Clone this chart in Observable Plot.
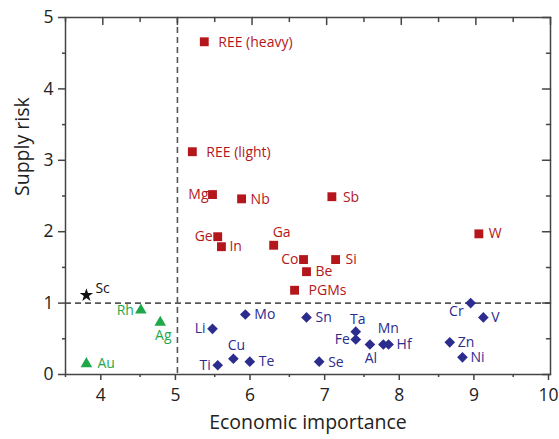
<!DOCTYPE html>
<html>
<head>
<meta charset="utf-8">
<script src="https://cdn.jsdelivr.net/npm/d3@7"></script>
<script src="https://cdn.jsdelivr.net/npm/@observablehq/plot@0.6"></script>
<style>
  body { margin: 0; background: #fff; }
  #chart svg { display: block; }
</style>
</head>
<body>
<div id="chart"></div>
<script>
// ---- data ----
const elements = ["REE (heavy)", "REE (light)", "Mg", "Nb", "Sb", "Ge", "In", "Ga", "Co", "Si", "Be", "PGMs", "W",
  "Sc", "Rh", "Ag", "Au",
  "Li", "Mo", "Sn", "Cu", "Te", "Ti", "Se", "Ta", "Fe", "Al", "Mn", "Hf", "Cr", "V", "Zn", "Ni"];
const economicImportance = [5.36, 5.20, 5.47, 5.86, 7.07, 5.54, 5.59, 6.29, 6.69, 7.12, 6.73, 6.57, 9.04,
  3.78, 4.51, 4.77, 3.78,
  5.47, 5.91, 6.73, 5.75, 5.97, 5.54, 6.90, 7.39, 7.39, 7.58, 7.76, 7.83, 8.93, 9.10, 8.65, 8.82];
const supplyRisk = [4.66, 3.12, 2.52, 2.46, 2.49, 1.93, 1.79, 1.81, 1.61, 1.61, 1.44, 1.18, 1.97,
  1.11, 0.90, 0.73, 0.15,
  0.64, 0.84, 0.80, 0.22, 0.18, 0.13, 0.18, 0.60, 0.49, 0.42, 0.42, 0.42, 1.00, 0.80, 0.45, 0.24];
const groups = ["red", "red", "red", "red", "red", "red", "red", "red", "red", "red", "red", "red", "red",
  "black", "green", "green", "green",
  "blue", "blue", "blue", "blue", "blue", "blue", "blue", "blue", "blue", "blue", "blue", "blue", "blue", "blue", "blue", "blue"];
const xTicks = [4, 5, 6, 7, 8, 9, 10];
const yTicks = [0, 1, 2, 3, 4, 5];
const xMinor = [3.5, 4.5, 5.5, 6.5, 7.5, 8.5, 9.5];
const yMinor = [0.5, 1.5, 2.5, 3.5, 4.5];
const xTitle = "Economic importance";
const yTitle = "Supply risk";

// ---- styling / layout ----
const colors = {red: "#b5161b", black: "#111111", green: "#1fa84a", blue: "#2c2c8e"};
const symbols = {red: "square", black: "star", green: "triangle", blue: "diamond2"};
const radius = {red: 5, black: 4.2, green: 4.3, blue: 4.8};
// label placement: [dx, dy, anchor]
const labelLayout = {
  "REE (heavy)": [14, 1, "start"], "REE (light)": [14, 1, "start"], "Mg": [-4, 0, "end"], "Nb": [9, 1, "start"],
  "Sb": [11, 1, "start"], "Ge": [-5, 0, "end"], "In": [8, 0, "start"], "Ga": [-1, -13, "start"],
  "Co": [-5, 0, "end"], "Si": [10, 0, "start"], "Be": [9, 0, "start"], "PGMs": [14, 0, "start"], "W": [10, 0, "start"],
  "Sc": [9, -7, "start"], "Rh": [-7, 0, "end"], "Ag": [3, 13, "middle"], "Au": [11, 0, "start"],
  "Li": [-7, 0, "end"], "Mo": [9, 0, "start"], "Sn": [9, 0, "start"], "Cu": [3, -13, "middle"], "Te": [9, 0, "start"],
  "Ti": [-7, 0, "end"], "Se": [9, 1, "start"], "Ta": [2, -12, "middle"], "Fe": [-6, 0, "end"], "Al": [1, 14, "middle"],
  "Mn": [5, -16, "middle"], "Hf": [8, 0, "start"], "Cr": [-7, 8, "end"], "V": [8, 0, "start"], "Zn": [8, 0, "start"], "Ni": [8, 0, "start"]
};

const data = elements.map((name, i) => ({name, x: economicImportance[i], y: supplyRisk[i], g: groups[i]}));

const FONT = "Open Sans, Noto Sans, sans-serif";
const axisColor = "#444";
const tickShape = {draw(ctx, l) { ctx.moveTo(0, 0); ctx.lineTo(0, -l); }};

const marks = [
  Plot.ruleX([5], {stroke: "#555", strokeWidth: 1.6, strokeDasharray: "6,4"}),
  Plot.ruleY([1], {stroke: "#555", strokeWidth: 1.6, strokeDasharray: "6,4"}),
  Plot.frame({stroke: axisColor, strokeWidth: 1.5}),
  Plot.axisX({ticks: xTicks, tickSize: 6, tickPadding: 8, tickFormat: "d", fontSize: 17.5, dx: -2, label: null, stroke: axisColor, strokeWidth: 1.5, fill: "#222"}),
  Plot.axisX({ticks: xMinor, tickSize: 3, tickFormat: () => "", label: null, stroke: axisColor, strokeWidth: 1.5}),
  Plot.axisY({ticks: yTicks, tickSize: 7, tickPadding: 5, tickFormat: "d", fontSize: 17.5, label: null, stroke: axisColor, strokeWidth: 1.5, fill: "#222"}),
  Plot.axisY({ticks: yMinor, tickSize: 3, tickFormat: () => "", label: null, stroke: axisColor, strokeWidth: 1.5}),
  Plot.vector(xTicks, {x: d => d, y: 5, length: 7, rotate: 180, anchor: "start", shape: tickShape, stroke: axisColor, strokeWidth: 1.5}),
  Plot.vector(xMinor, {x: d => d, y: 5, length: 4, rotate: 180, anchor: "start", shape: tickShape, stroke: axisColor, strokeWidth: 1.5}),
  Plot.vector(yTicks, {x: 10, y: d => d, length: 8, rotate: 270, anchor: "start", shape: tickShape, stroke: axisColor, strokeWidth: 1.5}),
  Plot.vector(yMinor, {x: 10, y: d => d, length: 4, rotate: 270, anchor: "start", shape: tickShape, stroke: axisColor, strokeWidth: 1.5}),
  Plot.text([xTitle], {frameAnchor: "bottom", text: d => d, dy: 54, fontSize: 19.5, fill: "#222"}),
  Plot.text([yTitle], {frameAnchor: "left", text: d => d, dx: -43, rotate: -90, fontSize: 19.5, fill: "#222"})
];

for (const g of ["red", "black", "green", "blue"]) {
  marks.push(Plot.dot(data.filter(d => d.g === g), {x: "x", y: "y", symbol: symbols[g], r: radius[g], fill: colors[g], stroke: "none"}));
}
for (const d of data) {
  const [dx, dy, anchor] = labelLayout[d.name];
  marks.push(Plot.text([d], {x: "x", y: "y", text: "name", dx, dy, textAnchor: anchor, fill: colors[d.g], fontSize: 14}));
}

const chart = Plot.plot({
  width: 559,
  height: 439,
  marginLeft: 65,
  marginRight: 9,
  marginTop: 17,
  marginBottom: 65,
  style: {fontFamily: FONT, background: "#fff"},
  x: {domain: [3.5, 10], axis: null},
  y: {domain: [0, 5], axis: null},
  marks
});
document.getElementById("chart").appendChild(chart);
</script>
</body>
</html>
